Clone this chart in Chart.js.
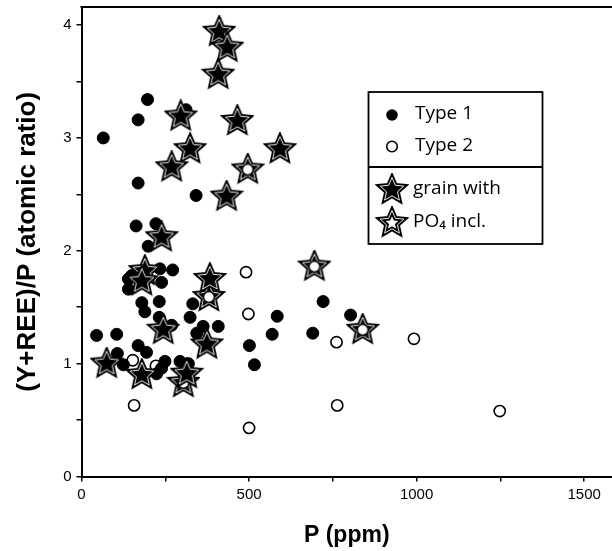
<html>
<head>
<script src="https://cdn.jsdelivr.net/npm/chart.js@4.4.1/dist/chart.umd.min.js"></script>
<style>
  body { margin: 0; background: #fff; }
</style>
</head>
<body>
<canvas id="ratio" width="612" height="551"></canvas>

<script>
// Type 1 grains (filled circles)
var type1P     = [45, 105, 163, 222, 199, 140, 150, 140, 234, 272, 239, 180, 189, 232, 232, 269, 332, 324, 363, 344, 408, 501, 516, 169, 194, 107, 125, 249, 224, 294, 319, 197, 169, 312, 65, 169, 342, 721, 803, 584, 569, 690, 239];
var type1Ratio = [1.25, 1.26, 2.22, 2.24, 2.04, 1.75, 1.78, 1.66, 1.84, 1.83, 1.72, 1.54, 1.46, 1.55, 1.41, 1.34, 1.53, 1.41, 1.33, 1.27, 1.33, 1.16, 0.99, 1.16, 1.10, 1.09, 0.99, 1.02, 0.91, 1.02, 1.00, 3.34, 3.16, 3.25, 3.00, 2.60, 2.49, 1.55, 1.43, 1.42, 1.26, 1.27, 0.96];

// Type 1 grains with PO4 inclusions (filled stars)
var type1InclP     = [411, 435, 408, 296, 465, 324, 269, 433, 592, 239, 189, 180, 244, 383, 374, 75, 180, 314];
var type1InclRatio = [3.94, 3.80, 3.56, 3.19, 3.15, 2.90, 2.74, 2.48, 2.90, 2.12, 1.82, 1.73, 1.30, 1.75, 1.17, 1.00, 0.90, 0.91];

// Type 2 grains (open circles)
var type2P     = [153, 222, 157, 491, 498, 761, 992, 763, 500, 1248];
var type2Ratio = [1.03, 0.98, 0.63, 1.81, 1.44, 1.19, 1.22, 0.63, 0.43, 0.58];

// Type 2 grains with PO4 inclusions (open stars)
var type2InclP     = [496, 695, 839, 380, 304];
var type2InclRatio = [2.72, 1.86, 1.30, 1.59, 0.83];

var legendRows = ['Type 1', 'Type 2', 'grain with', 'PO\u2084 incl.'];

function toPoints(xs, ys) {
	var pts = [];
	for (var i = 0; i < xs.length; i++) pts.push({x: xs[i], y: ys[i]});
	return pts;
}

function makeStar(filled, withCircle) {
	var R = 12.5, r = 5.8;
	var c = document.createElement('canvas');
	c.width = 34; c.height = 34;
	var g = c.getContext('2d');
	g.translate(17, 17);
	g.beginPath();
	for (var i = 0; i < 10; i++) {
		var a = -Math.PI / 2 + i * Math.PI / 5;
		var rad = (i % 2) ? r : R;
		g.lineTo(rad * Math.cos(a), rad * Math.sin(a));
	}
	g.closePath();
	g.fillStyle = filled ? '#000' : '#fff';
	g.fill();
	g.lineWidth = 4.6; g.strokeStyle = '#000'; g.stroke();
	g.lineWidth = 0.9; g.strokeStyle = '#fff'; g.stroke();
	if (withCircle) {
		g.beginPath();
		g.arc(0, 0, 5.5, 0, 2 * Math.PI);
		g.fillStyle = '#fff'; g.fill();
		g.lineWidth = 1.6; g.strokeStyle = '#000'; g.stroke();
	}
	return c;
}

var starFilled = makeStar(true, false);
var starOpen = makeStar(false, true);
var starOpenLegend = makeStar(false, false);

var frameAndLegend = {
	id: 'frameAndLegend',
	afterDraw: function(chart) {
		var ctx = chart.ctx, a = chart.chartArea;
		ctx.save();
		// top frame line
		ctx.strokeStyle = '#000'; ctx.lineWidth = 2;
		ctx.beginPath(); ctx.moveTo(a.left - 1, a.top); ctx.lineTo(a.right, a.top); ctx.stroke();

		// legend box
		var bx = 368.5, by = 92, bw = 174, bh = 152, sep = 167;
		ctx.fillStyle = '#fff';
		ctx.fillRect(bx, by, bw, bh);
		ctx.lineWidth = 1.8;
		ctx.strokeRect(bx, by, bw, bh);
		ctx.beginPath(); ctx.moveTo(bx, sep); ctx.lineTo(bx + bw, sep); ctx.stroke();

		var mx = 392;
		var rows = [115, 146.5, 190, 223];
		ctx.beginPath(); ctx.arc(mx, rows[0], 5.8, 0, 2 * Math.PI);
		ctx.fillStyle = '#000'; ctx.fill();
		ctx.beginPath(); ctx.arc(mx, rows[1], 5.3, 0, 2 * Math.PI);
		ctx.fillStyle = '#fff'; ctx.fill();
		ctx.lineWidth = 1.6; ctx.stroke();
		ctx.drawImage(starFilled, mx - 17, rows[2] - 17);
		ctx.drawImage(starOpenLegend, mx - 17, rows[3] - 17);

		ctx.fillStyle = '#000';
		ctx.font = '19px "Open Sans"';
		ctx.textBaseline = 'middle';
		ctx.fillText(legendRows[0], 415, rows[0] - 1);
		ctx.fillText(legendRows[1], 415, rows[1] - 1);
		ctx.fillText(legendRows[2], 413, rows[2] - 1);
		ctx.fillText(legendRows[3], 413, rows[3] - 1);
		ctx.restore();
	}
};

new Chart(document.getElementById('ratio'), {
	type: 'scatter',
	data: {
		datasets: [
			{
				label: 'Type 1 with PO4 incl.',
				data: toPoints(type1InclP, type1InclRatio),
				pointStyle: starFilled,
				order: 0
			},
			{
				label: 'Type 2 with PO4 incl.',
				data: toPoints(type2InclP, type2InclRatio),
				pointStyle: starOpen,
				order: 1
			},
			{
				label: 'Type 1',
				data: toPoints(type1P, type1Ratio),
				pointStyle: 'circle',
				pointRadius: 6,
				backgroundColor: '#000',
				borderColor: '#000',
				borderWidth: 1,
				order: 2
			},
			{
				label: 'Type 2',
				data: toPoints(type2P, type2Ratio),
				pointStyle: 'circle',
				pointRadius: 5.6,
				backgroundColor: '#fff',
				borderColor: '#000',
				borderWidth: 1.6,
				order: 3
			}
		]
	},
	options: {
		responsive: false,
		animation: false,
		layout: { autoPadding: false, padding: { top: 7, right: 0, left: 0, bottom: 0 } },
		plugins: {
			legend: { display: false },
			tooltip: { enabled: false }
		},
		scales: {
			x: {
				type: 'linear',
				min: 0,
				max: 1583,
				afterFit: function(s) { s.height = 74.5; s.paddingLeft = 0; s.paddingRight = 0; },
				border: { color: '#000', width: 2 },
				grid: { drawOnChartArea: false, color: '#000', tickLength: 5, lineWidth: 1.5 },
				ticks: {
					stepSize: 250,
					includeBounds: false,
					autoSkip: false,
					maxRotation: 0,
					padding: 4,
					color: '#000',
					font: { family: '"Liberation Sans", Arial', size: 15 },
					callback: function(v) { return v % 500 === 0 ? v : ''; }
				},
				title: {
					display: true,
					text: 'P (ppm)',
					color: '#000',
					font: { family: '"Liberation Sans", Arial', size: 23, weight: 'bold' },
					padding: { top: 4, bottom: 2 }
				}
			},
			y: {
				type: 'linear',
				min: 0,
				max: 4.16,
				afterFit: function(s) { s.width = 81.5; s.paddingTop = 0; s.paddingBottom = 0; },
				border: { color: '#000', width: 2 },
				grid: { drawOnChartArea: false, color: '#000', tickLength: 5, lineWidth: 1.5 },
				ticks: {
					stepSize: 0.5,
					includeBounds: false,
					autoSkip: false,
					padding: 5,
					color: '#000',
					font: { family: '"Liberation Sans", Arial', size: 15 },
					callback: function(v) { return Math.abs(v % 1) < 1e-9 ? v : ''; }
				},
				title: {
					display: true,
					text: '(Y+REE)/P (atomic ratio)',
					color: '#000',
					font: { family: '"Liberation Sans", Arial', size: 26, weight: 'bold' },
					padding: { top: 12, bottom: 0 }
				}
			}
		}
	},
	plugins: [frameAndLegend]
});
</script>
</body>
</html>
